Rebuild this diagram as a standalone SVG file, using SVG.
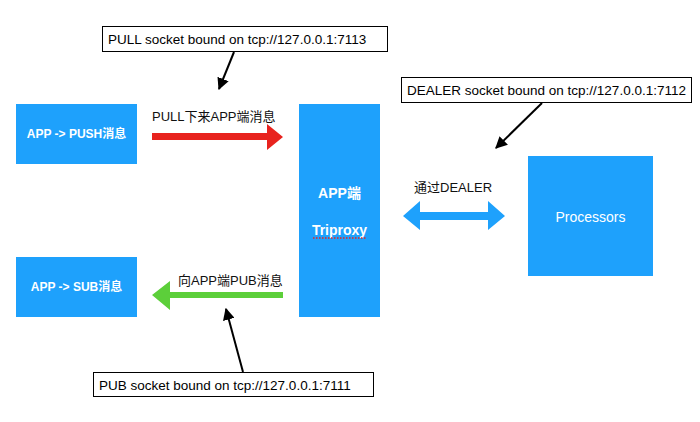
<svg xmlns="http://www.w3.org/2000/svg" width="700" height="422" viewBox="0 0 700 422">
<style>
.node{fill:#1ea1fc}
.lbl{fill:#fff;font-family:"Liberation Sans","Noto Sans CJK SC",sans-serif;text-anchor:middle}
.b{font-weight:bold}
.note{fill:#fff;stroke:#000;stroke-width:1}
.nt{fill:#000;font-family:"Liberation Sans","Noto Sans CJK SC",sans-serif;font-size:13.5px}
.cap{fill:#111;font-family:"Liberation Sans","Noto Sans CJK SC",sans-serif;font-size:13px}
.ptr{stroke:#000;stroke-width:2;fill:none}
</style>
<defs>
<marker id="ah" viewBox="0 0 10 10" refX="9" refY="5" markerWidth="6" markerHeight="6" orient="auto" markerUnits="strokeWidth">
<path d="M0,0 L10,5 L0,10 Z" fill="#000"/>
</marker>
</defs>
<rect width="700" height="422" fill="#fff"/>
<g id="push">
<rect class="node" x="16" y="104" width="121" height="60"/>
<text class="lbl b" x="76.5" y="138" font-size="12">APP -&gt; PUSH消息</text>
</g>
<g id="sub">
<rect class="node" x="16" y="257" width="121" height="60"/>
<text class="lbl b" x="76.5" y="291" font-size="12">APP -&gt; SUB消息</text>
</g>
<g id="triproxy">
<rect class="node" x="299" y="104" width="81" height="213"/>
<text class="lbl b" x="339.5" y="198" font-size="14">APP端</text>
<text class="lbl b" x="339.5" y="235" font-size="14">Triproxy</text>
<line x1="313" y1="238" x2="367" y2="238" stroke="#e8231e" stroke-width="1.5" stroke-dasharray="1.5,1.5"/>
</g>
<g id="processors">
<rect class="node" x="528" y="156" width="125" height="120"/>
<text class="lbl" x="590.5" y="222" font-size="14">Processors</text>
</g>
<g id="pullnote">
<rect class="note" x="102.5" y="26.5" width="285" height="25"/>
<text class="nt" x="108" y="44">PULL socket bound on tcp://127.0.0.1:7113</text>
</g>
<g id="dealernote">
<rect class="note" x="401.5" y="77.5" width="290" height="25"/>
<text class="nt" x="407" y="95">DEALER socket bound on tcp://127.0.0.1:7112</text>
</g>
<g id="pubnote">
<rect class="note" x="93.5" y="372.5" width="280" height="24"/>
<text class="nt" x="99" y="390">PUB socket bound on tcp://127.0.0.1:7111</text>
</g>
<g id="connectors">
<polygon points="152,133 267,133 267,124 283,137 267,150 267,140 152,140" fill="#e8231e"/>
<text class="cap" x="152" y="121">PULL下来APP端消息</text>
<polygon points="283,292 170,292 170,281 152,295 170,310 170,298 283,298" fill="#5ccf3a"/>
<text class="cap" x="178" y="285">向APP端PUB消息</text>
<polygon points="403,216 420,201 420,212 488,212 488,201 505,216 488,230 488,220 420,220 420,230" fill="#1ea1fc"/>
<text class="cap" x="414" y="192">通过DEALER</text>
<line class="ptr" x1="234" y1="52" x2="219" y2="89" marker-end="url(#ah)"/>
<line class="ptr" x1="542" y1="103" x2="496" y2="148" marker-end="url(#ah)"/>
<line class="ptr" x1="243" y1="372" x2="226" y2="309" marker-end="url(#ah)"/>
</g>
</svg>
